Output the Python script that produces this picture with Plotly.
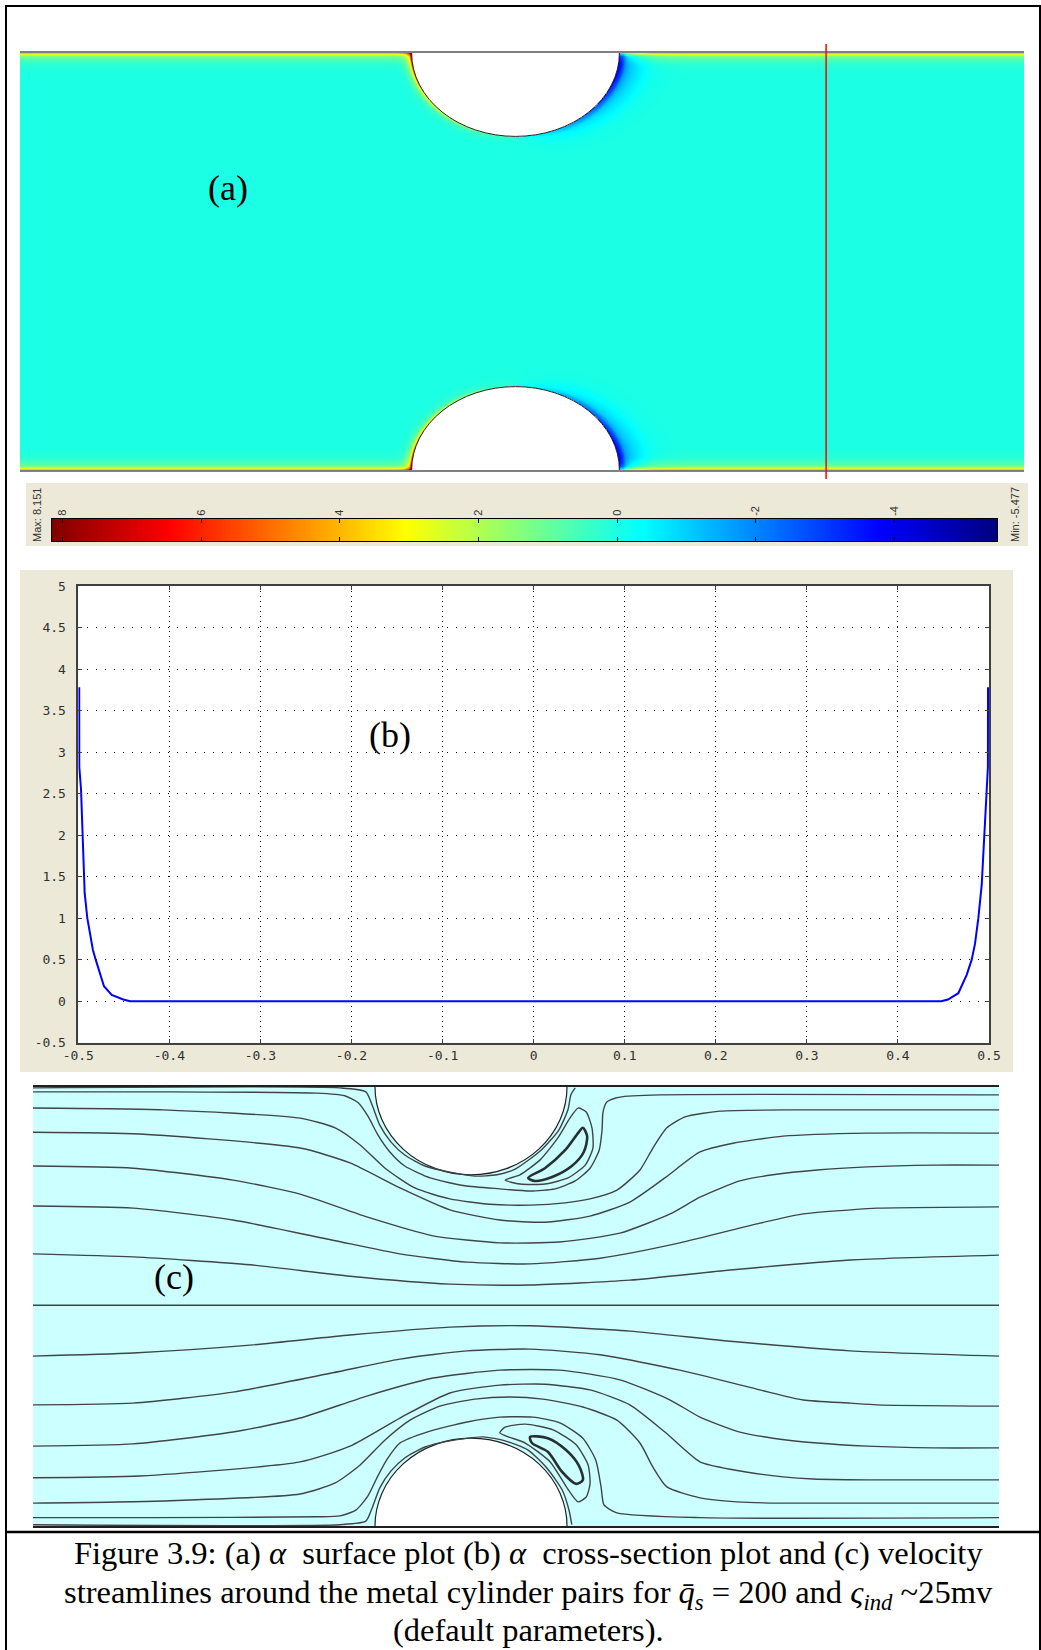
import numpy as np
import plotly.graph_objects as go

W, H = 1041, 1650
def pxx(v): return v / W
def pyy(v): return 1 - v / H

# ---------------- (b) cross-section data: alpha vs y along the red line ----------------
b_pos = [-0.4990, -0.4989, -0.4970, -0.4955, -0.4942, -0.4930, -0.4901, -0.4872, -0.4840,
         -0.4809, -0.4762, -0.4718, -0.4633, -0.4506, -0.4432, 0.0, 0.4432, 0.4475, 0.4550,
         0.4663, 0.4755, 0.4810, 0.4846, 0.4883, 0.4920, 0.4935, 0.4955, 0.4970, 0.4988, 0.4989]
b_alpha = [3.78, 2.82, 2.55, 2.10, 1.60, 1.30, 1.00, 0.80, 0.62, 0.50, 0.32, 0.18, 0.076,
           0.02, 0.0, 0.0, 0.0, 0.0, 0.02, 0.096, 0.317, 0.50, 0.69, 1.00, 1.40, 1.75, 2.10,
           2.55, 2.82, 3.78]
b_xticks = [-0.5, -0.4, -0.3, -0.2, -0.1, 0.0, 0.1, 0.2, 0.3, 0.4, 0.5]
b_xtext = ["-0.5", "-0.4", "-0.3", "-0.2", "-0.1", "0", "0.1", "0.2", "0.3", "0.4", "0.5"]
b_yticks = [-0.5, 0, 0.5, 1, 1.5, 2, 2.5, 3, 3.5, 4, 4.5, 5]
b_ytext = ["-0.5", "0", "0.5", "1", "1.5", "2", "2.5", "3", "3.5", "4", "4.5", "5"]

# ---------------- (a) surface data ----------------
ALPHA_MAX, ALPHA_MIN = 8.151, -5.477
A_XRANGE = [-0.954, 0.979]
CYL_R = 0.2
RED_LINE_X = 0.598
# alpha on cylinder surface vs angle (deg, 0 = facing channel centre, negative = left side)
cyl_ang = [-90, -75, -60, -45, -30, -15, 0, 15, 30, 45, 60, 75, 90]
cyl_val = [8.15, 6.2, 4.3, 3.0, 2.0, 1.0, 0.2, -0.8, -1.8, -2.8, -3.8, -4.8, -5.48]
cyl_thk = [0.6, 0.6, 0.6, 0.6, 0.6, 0.6, 0.8, 1.2, 1.5, 1.7, 1.9, 2.1, 2.3]
cbar_ticks = [8, 6, 4, 2, 0, -2, -4]
cbar_text = ["8", "6", "4", "2", "0", "-2", "-4"]

jet = [[0.0, "rgb(0,0,128)"], [0.125, "rgb(0,0,255)"], [0.375, "rgb(0,255,255)"],
       [0.625, "rgb(255,255,0)"], [0.875, "rgb(255,0,0)"], [1.0, "rgb(128,0,0)"]]

# wall profile (distance from wall -> alpha) taken from the cross-section data
wall_d = np.array(b_pos[:15]) + 0.5
wall_a = np.array(b_alpha[:15])
wall_d[0] = 0.0

nx, ny = 1004, 417
xs = np.linspace(A_XRANGE[0], A_XRANGE[1], nx)
ys = np.linspace(-0.5, 0.5, ny)
X, Y = np.meshgrid(xs, ys)
Z = np.interp(0.5 - Y, wall_d, wall_a, right=0.0) + np.interp(Y + 0.5, wall_d, wall_a, right=0.0)
inside = np.zeros_like(Z, dtype=bool)
for yc, sg in [(0.5, -1.0), (-0.5, 1.0)]:
    r = np.hypot(X, Y - yc)
    th = np.degrees(np.arctan2(X, sg * (Y - yc)))
    s = np.interp(th, cyl_ang, cyl_val)
    k = np.interp(th, cyl_ang, cyl_thk)
    g = np.interp((r - CYL_R) / k, wall_d, wall_a / wall_a[0], right=0.0)
    Z = Z + s * g
    inside |= r < CYL_R
Z[inside] = np.nan
Z = Z.astype(np.float32)

# ---------------- (c) streamlines ----------------
C_XRANGE = [-0.9125, 1.1]
# top half
tw_x = [-0.913, -0.273, -0.219, -0.206, -0.190, -0.167, -0.138, -0.096, -0.044, 0.008, 0.054, 0.092, 0.146, 0.183, 0.202, 0.208, 0.217]
tw_y = [0.498, 0.498, 0.489, 0.459, 0.413, 0.375, 0.345, 0.320, 0.306, 0.297, 0.300, 0.313, 0.356, 0.402, 0.448, 0.482, 0.498]
t0_x = [-0.913, -0.663, -0.321, -0.263, -0.235, -0.215, -0.194, -0.169, -0.138, -0.085, -0.013, 0.060, 0.123, 0.175, 0.217, 0.248, 0.267, 0.273, 0.275, 0.283, 0.310, 0.394, 1.100]
t0_y = [0.489, 0.489, 0.486, 0.480, 0.464, 0.434, 0.391, 0.352, 0.320, 0.293, 0.275, 0.268, 0.263, 0.268, 0.286, 0.315, 0.356, 0.402, 0.443, 0.466, 0.477, 0.482, 0.482]
t1_x = [-0.913, -0.642, -0.356, -0.283, -0.231, -0.179, -0.117, -0.044, 0.040, 0.123, 0.196, 0.248, 0.304, 0.352, 0.379, 0.408, 0.446, 0.519, 0.685, 1.100]
t1_y = [0.452, 0.448, 0.429, 0.407, 0.368, 0.315, 0.270, 0.245, 0.233, 0.231, 0.236, 0.245, 0.265, 0.311, 0.361, 0.407, 0.432, 0.445, 0.448, 0.448]
t2_x = [-0.913, -0.690, -0.356, -0.252, -0.148, -0.044, 0.060, 0.154, 0.248, 0.331, 0.404, 0.477, 0.546, 0.650, 0.825, 1.100]
t2_y = [0.397, 0.393, 0.361, 0.327, 0.270, 0.220, 0.197, 0.192, 0.206, 0.238, 0.293, 0.352, 0.372, 0.388, 0.395, 0.395]
t3_x = [-0.913, -0.704, -0.496, -0.356, -0.217, -0.079, 0.060, 0.185, 0.310, 0.415, 0.477, 0.560, 0.629, 0.721, 0.825, 0.963, 1.100]
t3_y = [0.320, 0.315, 0.288, 0.256, 0.204, 0.161, 0.145, 0.147, 0.167, 0.211, 0.249, 0.286, 0.300, 0.311, 0.318, 0.322, 0.322]
t4_x = [-0.913, -0.704, -0.496, -0.288, -0.148, -0.008, 0.123, 0.269, 0.435, 0.602, 0.692, 0.790, 0.846, 1.100]
t4_y = [0.229, 0.224, 0.197, 0.151, 0.120, 0.101, 0.097, 0.110, 0.145, 0.190, 0.211, 0.220, 0.224, 0.227]
t5_x = [-0.913, -0.704, -0.460, -0.252, -0.044, 0.123, 0.331, 0.540, 0.790, 1.100]
t5_y = [0.120, 0.113, 0.095, 0.069, 0.051, 0.049, 0.060, 0.083, 0.106, 0.117]
tb_x = [0.071, 0.102, 0.144, 0.181, 0.206, 0.223, 0.240, 0.252, 0.254, 0.238, 0.202, 0.154, 0.102, 0.071]
tb_y = [0.288, 0.300, 0.334, 0.384, 0.429, 0.452, 0.443, 0.407, 0.361, 0.322, 0.293, 0.279, 0.279, 0.288]
tv_x = [0.119, 0.154, 0.196, 0.223, 0.233, 0.242, 0.235, 0.210, 0.169, 0.133, 0.119]
tv_y = [0.293, 0.315, 0.356, 0.395, 0.407, 0.388, 0.352, 0.320, 0.295, 0.286, 0.293]
# centre line
mid_x = [-0.913, 1.100]
mid_y = [0.003, 0.003]
# bottom half
bw_x = [-0.913, -0.273, -0.219, -0.206, -0.190, -0.167, -0.138, -0.096, -0.044, 0.025, 0.071, 0.119, 0.158, 0.190, 0.204, 0.210]
bw_y = [-0.497, -0.497, -0.489, -0.459, -0.413, -0.375, -0.345, -0.320, -0.306, -0.297, -0.306, -0.327, -0.368, -0.418, -0.463, -0.497]
b0_x = [-0.913, -0.663, -0.321, -0.273, -0.240, -0.215, -0.194, -0.173, -0.148, -0.092, -0.008, 0.060, 0.129, 0.185, 0.233, 0.260, 0.271, 0.277, 0.304, 0.477, 1.100]
b0_y = [-0.481, -0.481, -0.479, -0.477, -0.464, -0.432, -0.386, -0.345, -0.311, -0.286, -0.263, -0.252, -0.252, -0.265, -0.300, -0.350, -0.411, -0.452, -0.470, -0.481, -0.481]
b1_x = [-0.913, -0.642, -0.356, -0.283, -0.231, -0.179, -0.127, -0.065, 0.008, 0.081, 0.150, 0.233, 0.304, 0.352, 0.379, 0.408, 0.477, 0.554, 0.644, 1.100]
b1_y = [-0.448, -0.443, -0.427, -0.402, -0.361, -0.304, -0.259, -0.227, -0.211, -0.206, -0.211, -0.229, -0.259, -0.311, -0.366, -0.411, -0.436, -0.445, -0.448, -0.448]
b2_x = [-0.913, -0.690, -0.356, -0.252, -0.148, -0.044, 0.060, 0.154, 0.248, 0.331, 0.404, 0.477, 0.546, 0.650, 0.713, 0.825, 1.100]
b2_y = [-0.390, -0.386, -0.354, -0.318, -0.254, -0.197, -0.179, -0.177, -0.190, -0.224, -0.286, -0.354, -0.372, -0.388, -0.393, -0.395, -0.395]
b3_x = [-0.913, -0.704, -0.496, -0.356, -0.217, -0.079, 0.060, 0.185, 0.310, 0.415, 0.477, 0.560, 0.629, 0.721, 0.825, 0.963, 1.100]
b3_y = [-0.318, -0.313, -0.286, -0.254, -0.204, -0.163, -0.145, -0.145, -0.167, -0.213, -0.252, -0.286, -0.300, -0.311, -0.318, -0.322, -0.322]
b4_x = [-0.913, -0.704, -0.496, -0.288, -0.148, -0.008, 0.123, 0.269, 0.435, 0.602, 0.692, 0.790, 0.846, 1.100]
b4_y = [-0.224, -0.220, -0.195, -0.151, -0.120, -0.101, -0.097, -0.110, -0.145, -0.190, -0.213, -0.220, -0.224, -0.227]
b5_x = [-0.913, -0.704, -0.460, -0.252, -0.044, 0.123, 0.331, 0.540, 0.790, 1.100]
b5_y = [-0.113, -0.106, -0.088, -0.065, -0.047, -0.044, -0.056, -0.079, -0.101, -0.113]
bb_x = [0.060, 0.113, 0.165, 0.200, 0.223, 0.240, 0.248, 0.244, 0.219, 0.171, 0.113, 0.071, 0.060]
bb_y = [-0.288, -0.311, -0.354, -0.413, -0.445, -0.434, -0.404, -0.361, -0.315, -0.281, -0.268, -0.275, -0.288]
bv_x = [0.123, 0.160, 0.198, 0.225, 0.233, 0.219, 0.190, 0.160, 0.127, 0.123]
bv_y = [-0.297, -0.300, -0.327, -0.363, -0.395, -0.404, -0.377, -0.331, -0.311, -0.297]

fig = go.Figure()

# (a) surface
fig.add_trace(go.Heatmap(x=xs, y=ys, z=Z, colorscale=jet, zmin=ALPHA_MIN, zmax=ALPHA_MAX,
                         showscale=False, hoverinfo="skip", xaxis="x", yaxis="y"))
# colour bar as heatmap
cb_x = np.linspace(ALPHA_MAX, ALPHA_MIN, 500)
fig.add_trace(go.Heatmap(x=cb_x, y=[0], z=[cb_x], colorscale=jet, zmin=ALPHA_MIN, zmax=ALPHA_MAX,
                         showscale=False, hoverinfo="skip", xaxis="x2", yaxis="y2"))
# (b) cross-section
fig.add_trace(go.Scatter(x=b_pos, y=b_alpha, mode="lines", line=dict(color="#0000ff", width=2),
                         hoverinfo="skip", xaxis="x3", yaxis="y3"))
# (c) streamlines
SL = dict(color="#404444", width=1.4, shape="spline", smoothing=0.6)
open_lines = [(tw_x, tw_y), (t0_x, t0_y), (t1_x, t1_y), (t2_x, t2_y), (t3_x, t3_y), (t4_x, t4_y), (t5_x, t5_y),
              (mid_x, mid_y), (bw_x, bw_y), (b0_x, b0_y), (b1_x, b1_y), (b2_x, b2_y), (b3_x, b3_y),
              (b4_x, b4_y), (b5_x, b5_y), (tb_x, tb_y), (bb_x, bb_y)]
for lx, ly in open_lines:
    fig.add_trace(go.Scatter(x=lx, y=ly, mode="lines", line=SL, hoverinfo="skip", xaxis="x4", yaxis="y4"))
for lx, ly in [(tv_x, tv_y), (bv_x, bv_y)]:
    fig.add_trace(go.Scatter(x=lx, y=ly, mode="lines",
                             line=dict(color="#263030", width=2.6, shape="spline", smoothing=0.8),
                             hoverinfo="skip", xaxis="x4", yaxis="y4"))

hidden = dict(showgrid=False, zeroline=False, showticklabels=False, ticks="")
shapes = []
# beige boxes
shapes.append(dict(type="rect", xref="paper", yref="paper", x0=pxx(26), x1=pxx(1028), y0=pyy(546), y1=pyy(483),
                   fillcolor="#ece9d8", line=dict(width=0), layer="below"))
shapes.append(dict(type="rect", xref="paper", yref="paper", x0=pxx(20), x1=pxx(1013), y0=pyy(1072), y1=pyy(570),
                   fillcolor="#ece9d8", line=dict(width=0), layer="below"))
# white plotting area of (b)
shapes.append(dict(type="rect", xref="x3 domain", yref="y3 domain", x0=0, x1=1, y0=0, y1=1,
                   fillcolor="white", line=dict(width=0), layer="below"))
# (a) cylinders
for yc in (0.5, -0.5):
    shapes.append(dict(type="circle", xref="x", yref="y", x0=-CYL_R, x1=CYL_R, y0=yc - CYL_R, y1=yc + CYL_R,
                       fillcolor="white", line=dict(color="#202020", width=1), layer="above"))
# red cross-section line
shapes.append(dict(type="line", xref="x", yref="paper", x0=RED_LINE_X, x1=RED_LINE_X, y0=pyy(479), y1=pyy(44),
                   line=dict(color="#ff0000", width=1.5), layer="above"))
# (c) fluid fill and cylinders
shapes.append(dict(type="rect", xref="x4", yref="y4", x0=C_XRANGE[0], x1=C_XRANGE[1], y0=-0.5, y1=0.5,
                   fillcolor="#ccffff", line=dict(width=0), layer="below"))
for yc in (0.5, -0.5):
    shapes.append(dict(type="circle", xref="x4", yref="y4", x0=-CYL_R, x1=CYL_R, y0=yc - CYL_R, y1=yc + CYL_R,
                       fillcolor="white", line=dict(color="#202020", width=1.2), layer="below"))
# frame
shapes.append(dict(type="line", xref="paper", yref="paper", x0=pxx(6), x1=pxx(6), y0=0, y1=pyy(5),
                   line=dict(color="black", width=2)))
shapes.append(dict(type="line", xref="paper", yref="paper", x0=pxx(5), x1=1, y0=pyy(6), y1=pyy(6),
                   line=dict(color="black", width=2)))
shapes.append(dict(type="line", xref="paper", yref="paper", x0=pxx(1040), x1=pxx(1040), y0=0, y1=pyy(5),
                   line=dict(color="black", width=2)))
shapes.append(dict(type="line", xref="paper", yref="paper", x0=pxx(5), x1=1, y0=pyy(1532), y1=pyy(1532),
                   line=dict(color="black", width=2.5)))

serif = "Liberation Serif, Times New Roman, serif"
sans = "Liberation Sans, Arial, sans-serif"
ann = []
for txt, x, y in [("(a)", 228, 188), ("(b)", 390, 735), ("(c)", 174, 1277)]:
    ann.append(dict(text=txt, x=pxx(x), y=pyy(y), xref="paper", yref="paper", showarrow=False,
                    xanchor="center", yanchor="middle", font=dict(family=serif, size=36, color="black")))
ann.append(dict(text="Max: 8.151", x=pxx(37), y=pyy(515), xref="paper", yref="paper", showarrow=False,
                xanchor="center", yanchor="middle", textangle=-90,
                font=dict(family=sans, size=11, color="#333333")))
ann.append(dict(text="Min: -5.477", x=pxx(1015), y=pyy(515), xref="paper", yref="paper", showarrow=False,
                xanchor="center", yanchor="middle", textangle=-90,
                font=dict(family=sans, size=11, color="#333333")))
cap = ["Figure 3.9: (a) <i>α</i>\u00a0 surface plot (b) <i>α</i>\u00a0 cross-section plot and (c) velocity",
       "streamlines around the metal cylinder pairs for <i>q\u0304</i><sub><i>s</i></sub> = 200 and <i>ς</i><sub><i>ind</i></sub> ~25mv",
       "(default parameters)."]
for txt, y in zip(cap, [1553, 1594, 1630]):
    ann.append(dict(text=txt, x=pxx(528), y=pyy(y), xref="paper", yref="paper", showarrow=False,
                    xanchor="center", yanchor="middle", font=dict(family=serif, size=32.5, color="black")))

tickfont_b = dict(family="DejaVu Sans Mono", size=13, color="#303030")
fig.update_layout(
    width=W, height=H, margin=dict(l=0, r=0, t=0, b=0, pad=0, autoexpand=False), showlegend=False,
    autosize=False, paper_bgcolor="white", plot_bgcolor="white",
    xaxis=dict(domain=[pxx(20), pxx(1024)], range=A_XRANGE, anchor="y", showline=True, mirror=True,
               linecolor="#808080", linewidth=1.5, **hidden),
    yaxis=dict(domain=[pyy(470), pyy(53)], range=[-0.5, 0.5], anchor="x", showline=False, **hidden),
    xaxis2=dict(domain=[pxx(52), pxx(997)], range=[ALPHA_MAX, ALPHA_MIN], anchor="y2", side="top",
                tickvals=cbar_ticks, ticktext=cbar_text, tickangle=-90, ticks="inside", ticklen=4,
                tickcolor="black", showline=True, mirror="ticks", linecolor="black", linewidth=1,
                showgrid=False, zeroline=False, tickfont=dict(family=sans, size=11, color="#333333")),
    yaxis2=dict(domain=[pyy(541), pyy(519)], range=[-0.5, 0.5], anchor="x2", showline=True, mirror=True,
                linecolor="black", linewidth=1, **hidden),
    xaxis3=dict(domain=[pxx(78.3), pxx(989)], range=[-0.5, 0.5], anchor="y3", tickvals=b_xticks,
                ticktext=b_xtext, ticks="inside", ticklen=4, tickcolor="#404040", showline=True,
                mirror="ticks", linecolor="#404040", linewidth=1.5, showgrid=True, gridcolor="black",
                gridwidth=1, griddash="1px,4px", zeroline=False, tickfont=tickfont_b),
    yaxis3=dict(domain=[pyy(1042.7), pyy(586)], range=[-0.5, 5], anchor="x3", tickvals=b_yticks,
                ticktext=b_ytext, ticks="inside", ticklen=4, tickcolor="#404040", showline=True,
                mirror="ticks", linecolor="#404040", linewidth=1.5, showgrid=True, gridcolor="black",
                gridwidth=1, griddash="1px,8px", zeroline=False, tickfont=tickfont_b, ticklabelstandoff=8),
    xaxis4=dict(domain=[pxx(33), pxx(999)], range=C_XRANGE, anchor="y4", showline=True, mirror=True,
                linecolor="#202020", linewidth=1.5, **hidden),
    yaxis4=dict(domain=[pyy(1526), pyy(1087)], range=[-0.5, 0.5], anchor="x4", showline=False, **hidden),
    shapes=shapes, annotations=ann,
)
fig.write_html("out.html", config={"responsive": False},
               post_script="document.body.style.margin='0px';document.body.style.padding='0px';")
